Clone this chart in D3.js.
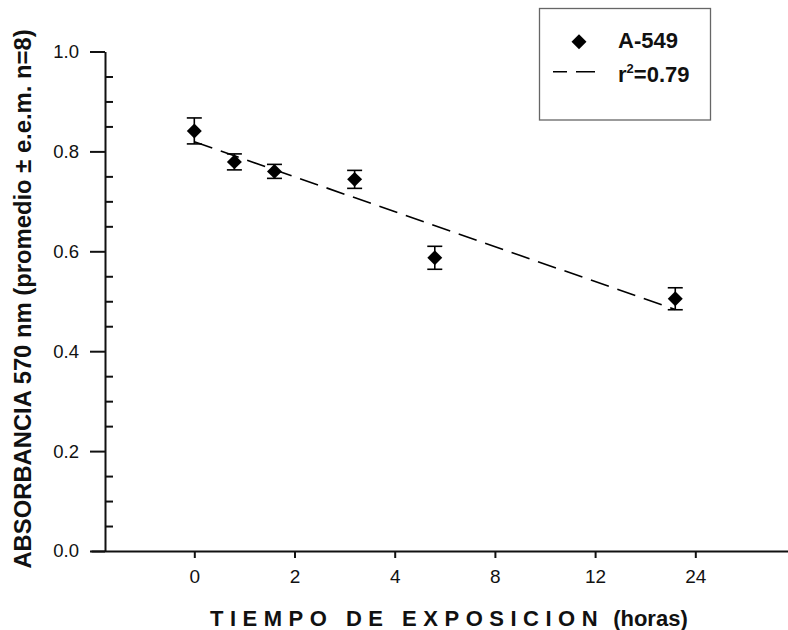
<!DOCTYPE html>
<html>
<head>
<meta charset="utf-8">
<script src="https://cdn.jsdelivr.net/npm/d3@7"></script>
<style>
  html, body { margin: 0; padding: 0; background: #fff; }
  svg { display: block; font-family: Arial, "Liberation Sans", sans-serif; }
</style>
</head>
<body>
<svg id="chart" width="788" height="630"></svg>
<script>
// ---- data ----
const xPositions = [0, 0.8, 1.6, 3.2, 4.8, 9.6];      // position on the time axis (axis units)
const absorbance = [0.841, 0.779, 0.760, 0.744, 0.587, 0.505];
const sem        = [0.026, 0.016, 0.014, 0.018, 0.023, 0.022];
const xTickValues = [0, 2, 4, 6, 8, 10];
const xTickLabels = ["0", "2", "4", "8", "12", "24"];
const yMajorTicks = [0, 0.2, 0.4, 0.6, 0.8, 1.0];
const yMinorTicks = [0.05, 0.1, 0.15, 0.25, 0.3, 0.35, 0.45, 0.5, 0.55, 0.65, 0.7, 0.75, 0.85, 0.9, 0.95];
const seriesName = "A-549";
const fitLabel = "0.79";

const svg = d3.select("#chart");

const x = d3.scaleLinear().domain([-2.06, 12]).range([91.1, 795.5]);
const y = d3.scaleLinear().domain([0, 1]).range([551, 51.5]);
const yAxisX = 105;

// linear regression from data
const mx = d3.mean(xPositions), my = d3.mean(absorbance);
let sxy = 0, sxx = 0;
xPositions.forEach((v, i) => { sxy += (v - mx) * (absorbance[i] - my); sxx += (v - mx) * (v - mx); });
const slope = sxy / sxx, intercept = my - slope * mx;

// x axis
const xAxis = d3.axisBottom(x)
  .tickValues(xTickValues)
  .tickFormat((d, i) => xTickLabels[i])
  .tickSize(7).tickSizeOuter(0).tickPadding(12);
const gx = svg.append("g").attr("transform", `translate(0,${y(0)})`).call(xAxis);
gx.select(".domain").attr("stroke", "#111").attr("stroke-width", 2);
gx.selectAll(".tick line").attr("stroke", "#111").attr("stroke-width", 2);
gx.selectAll(".tick text").attr("font-size", 19).attr("fill", "#111")
  .attr("font-family", "Arial, 'Liberation Sans', sans-serif");

// y axis (major ticks outside)
const yAxis = d3.axisLeft(y)
  .tickValues(yMajorTicks)
  .tickFormat(d3.format(".1f"))
  .tickSize(15).tickSizeOuter(0).tickPadding(11);
const gy = svg.append("g").attr("transform", `translate(${yAxisX},0)`).call(yAxis);
gy.select(".domain").attr("stroke", "#111").attr("stroke-width", 2);
gy.selectAll(".tick line").attr("stroke", "#111").attr("stroke-width", 2);
gy.selectAll(".tick text").attr("font-size", 18.5).attr("fill", "#111")
  .attr("font-family", "Arial, 'Liberation Sans', sans-serif");

// minor ticks inside
const yMinor = d3.axisRight(y).tickValues(yMinorTicks).tickSize(8).tickFormat("");
const gyMinor = svg.append("g").attr("transform", `translate(${yAxisX},0)`).call(yMinor);
gyMinor.select(".domain").remove();
gyMinor.selectAll(".tick line").attr("stroke", "#111").attr("stroke-width", 2);

// regression line
const fitX = [xPositions[0], xPositions[xPositions.length - 1]];
svg.append("path")
  .datum(fitX)
  .attr("d", d3.line().x(d => x(d)).y(d => y(intercept + slope * d)))
  .attr("fill", "none").attr("stroke", "#000").attr("stroke-width", 1.6)
  .attr("stroke-dasharray", "19,9");

// error bars
const capW = 15;
const pts = xPositions.map((v, i) => ({ x: v, y: absorbance[i], e: sem[i] }));
const eb = svg.append("g").attr("stroke", "#000").attr("stroke-width", 1.6);
pts.forEach(p => {
  eb.append("line").attr("x1", x(p.x)).attr("x2", x(p.x)).attr("y1", y(p.y - p.e)).attr("y2", y(p.y + p.e));
  eb.append("line").attr("x1", x(p.x) - capW / 2).attr("x2", x(p.x) + capW / 2).attr("y1", y(p.y + p.e)).attr("y2", y(p.y + p.e));
  eb.append("line").attr("x1", x(p.x) - capW / 2).attr("x2", x(p.x) + capW / 2).attr("y1", y(p.y - p.e)).attr("y2", y(p.y - p.e));
});

// diamonds
const diamond = d3.symbol().type(d3.symbolSquare).size(112);
svg.append("g").selectAll("path").data(pts).join("path")
  .attr("d", diamond)
  .attr("transform", d => `translate(${x(d.x)},${y(d.y)}) rotate(45)`)
  .attr("fill", "#000");

// axis titles
svg.append("text")
  .attr("transform", "translate(31,299) rotate(-90)")
  .attr("text-anchor", "middle")
  .attr("font-size", 23.8).attr("font-weight", "bold").attr("fill", "#111")
  .text("ABSORBANCIA 570 nm (promedio ± e.e.m. n=8)");

const xt = svg.append("text")
  .attr("x", 210).attr("y", 626)
  .attr("font-size", 22).attr("font-weight", "bold").attr("fill", "#111");
xt.append("tspan").attr("letter-spacing", 6.5).text("TIEMPO DE EXPOSICION");
xt.append("tspan").attr("dx", 3).text(" (horas)");

// legend
const lg = svg.append("g");
lg.append("rect").attr("x", 539.5).attr("y", 8.5).attr("width", 171).attr("height", 111.5)
  .attr("fill", "#fff").attr("stroke", "#666").attr("stroke-width", 1.3);
lg.append("path").attr("d", diamond).attr("transform", "translate(579,41.7) rotate(45)").attr("fill", "#000");
lg.append("text").attr("x", 618).attr("y", 47.5)
  .attr("font-size", 22).attr("font-weight", "bold").attr("fill", "#111").text(seriesName);
lg.append("line").attr("x1", 553).attr("x2", 598).attr("y1", 71.7).attr("y2", 71.7)
  .attr("stroke", "#000").attr("stroke-width", 1.6)
  .attr("stroke-dasharray", "19,9").attr("stroke-dashoffset", 5);
const rt = lg.append("text").attr("x", 618).attr("y", 81.5)
  .attr("font-size", 22).attr("font-weight", "bold").attr("fill", "#111");
rt.append("tspan").text("r");
rt.append("tspan").attr("font-size", 13).attr("dy", -9).text("2");
rt.append("tspan").attr("dy", 9).text("=" + fitLabel);
</script>
</body>
</html>
